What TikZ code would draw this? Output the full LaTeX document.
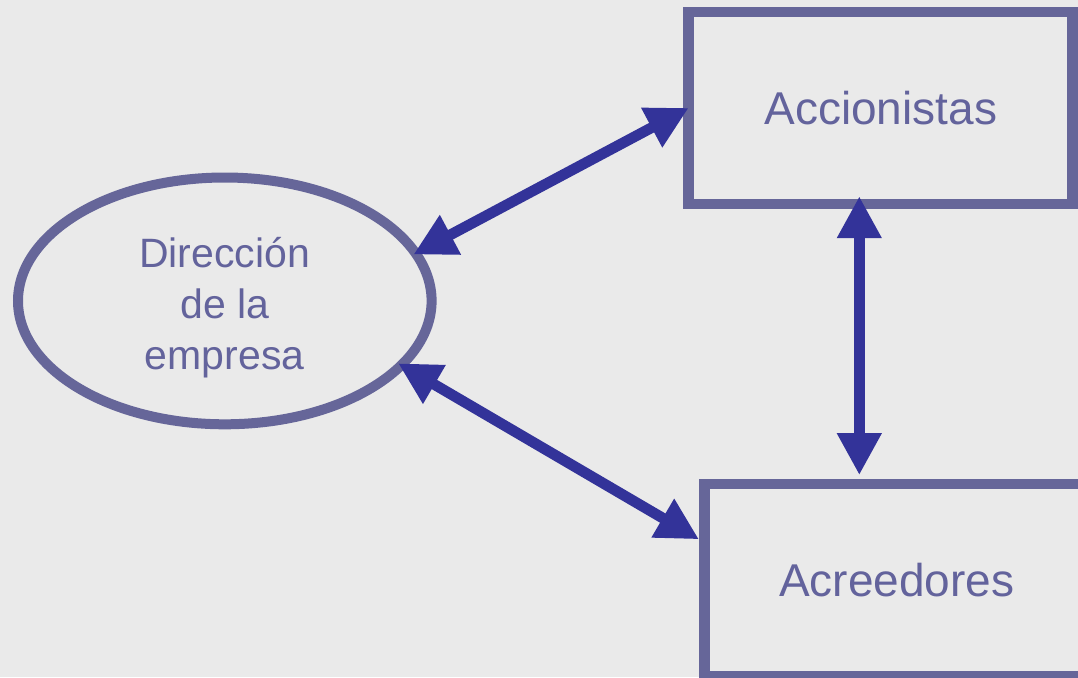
\documentclass[tikz,border=0pt]{standalone}
\usepackage{fontspec}
\setmainfont{Liberation Sans}
\usetikzlibrary{arrows.meta,shapes.geometric}
\definecolor{bg}{HTML}{EAEAEA}
\definecolor{frame}{HTML}{666699}
\definecolor{arr}{HTML}{333399}
\definecolor{txt}{HTML}{63639C}
\begin{document}
\begin{tikzpicture}[x=1pt,y=-1pt,
  boxstyle/.style={draw=frame, line width=10.7pt, rectangle, inner sep=0pt, outer sep=0pt,
    minimum width=384pt, minimum height=192pt, text=txt, font=\fontsize{46}{55}\selectfont},
  ellstyle/.style={draw=frame, line width=10pt, ellipse, inner sep=0pt, outer sep=0pt,
    minimum width=413.6pt, minimum height=246.8pt},
  labelstyle/.style={text=txt, align=center, inner sep=0pt, font=\fontsize{41}{51}\selectfont},
  biarrow/.style={draw=arr, line width=10.7pt,
    {Triangle[length=42pt,width=42pt]}-{Triangle[length=42pt,width=42pt]}}
]
\clip (0,0) rectangle (1078,677);
\fill[bg] (0,0) rectangle (1078,677);
\node[ellstyle] (dir) at (224.8,300.9) {};
\node[labelstyle] (dirtext) at (224.7,307.5) {Dirección\\de la\\empresa};
\node[boxstyle] (acc) at (880.7,107.9) {Accionistas};
\node[boxstyle] (acr) at (896.7,579.9) {Acreedores};
\draw[biarrow, shorten <=-2.5pt] (dir.14.3) -- (acc.west);
\draw[biarrow, shorten <=-3.7pt] (dir.-20.4) -- ([xshift=-5.7pt,yshift=40.6pt]acr.west);
\draw[biarrow] ([xshift=-21.4pt,yshift=7.7pt]acc.south) -- ([xshift=-37.4pt,yshift=8.8pt]acr.north);
\end{tikzpicture}
\end{document}
